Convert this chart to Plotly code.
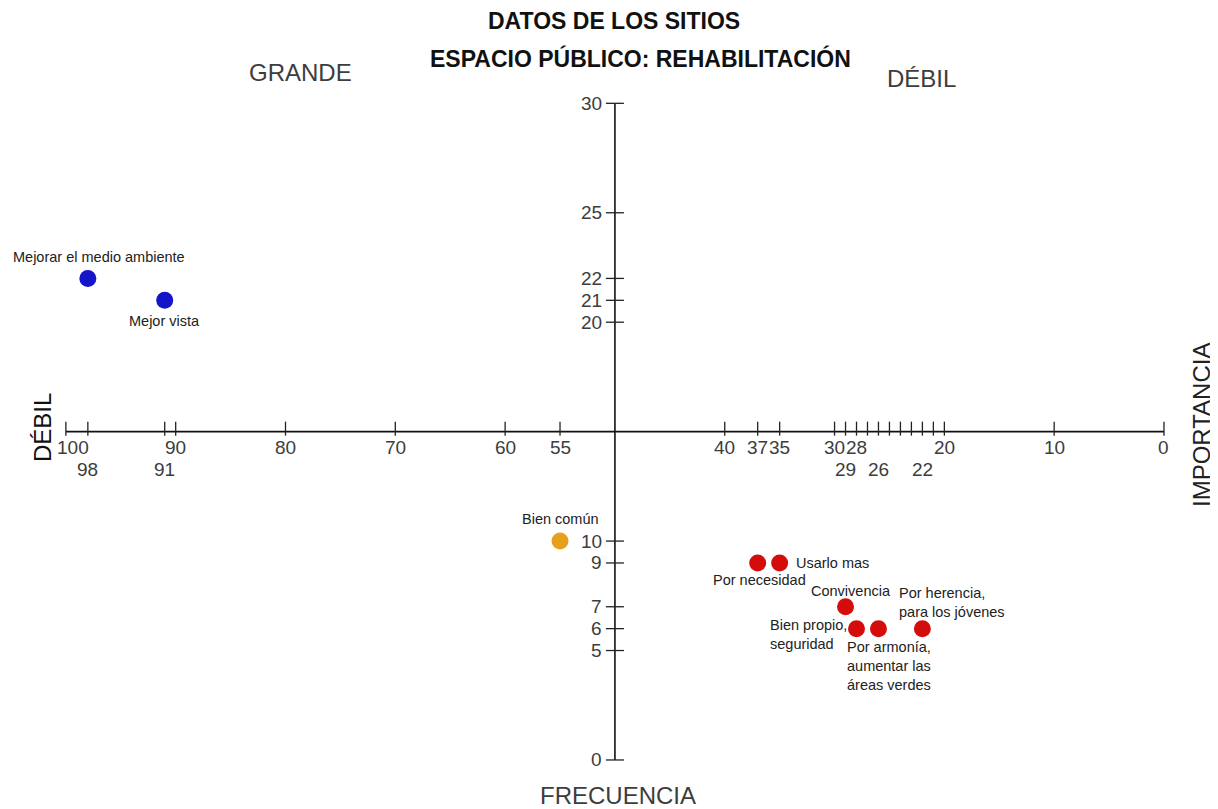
import plotly.graph_objects as go

# datos
blue_freq = [98, 91]
blue_imp = [22, 21]
blue_labels = ["Mejorar el medio ambiente", "Mejor vista"]

orange_freq = [55]
orange_imp = [10]
orange_labels = ["Bien común"]

red_freq = [37, 35, 29, 28, 26, 22]
red_imp = [9, 9, 7, 6, 6, 6]
red_labels = [
    "Por necesidad",
    "Usarlo mas",
    "Convivencia",
    "Bien propio,<br>seguridad",
    "Por armonía,<br>aumentar las<br>áreas verdes",
    "Por herencia,<br>para los jóvenes",
]

x_ticks = [100, 98, 91, 90, 80, 70, 60, 55, 40, 37, 35,
           30, 29, 28, 27, 26, 25, 24, 23, 22, 21, 20, 10, 0]
x_labels_top = [100, 90, 80, 70, 60, 55, 40, 37, 35, 30, 28, 20, 10, 0]
x_labels_bottom = [98, 91, 29, 26, 22]
y_ticks = [30, 25, 22, 21, 20, 10, 9, 7, 6, 5, 0]

x_cross = 50
y_cross = 15

# la pagina tiene 8px de margen en el body
OFF = 8
W, H = 1218 - OFF, 809 - OFF
FONT = "Arial, Liberation Sans, sans-serif"
GREY = "#3d3d3d"

fig = go.Figure()

fig.add_trace(go.Scatter(x=blue_freq, y=blue_imp, mode="markers",
                         marker=dict(size=17, color="#1414c8"), hoverinfo="skip"))
fig.add_trace(go.Scatter(x=orange_freq, y=orange_imp, mode="markers",
                         marker=dict(size=17, color="#e6a01c"), hoverinfo="skip"))
fig.add_trace(go.Scatter(x=red_freq, y=red_imp, mode="markers",
                         marker=dict(size=17, color="#d40c0c"), hoverinfo="skip"))

shapes = []
# ejes
shapes.append(dict(type="line", xref="x", yref="y", x0=max(x_ticks), x1=min(x_ticks),
                   y0=y_cross, y1=y_cross, line=dict(color="#111", width=1.6)))
shapes.append(dict(type="line", xref="x", yref="y", x0=x_cross, x1=x_cross,
                   y0=min(y_ticks), y1=max(y_ticks), line=dict(color="#111", width=1.6)))
for v in x_ticks:
    shapes.append(dict(type="line", xref="x", yref="y", x0=v, x1=v,
                       ysizemode="pixel", yanchor=y_cross, y0=-4, y1=10,
                       line=dict(color="#222", width=1.3)))
for v in y_ticks:
    shapes.append(dict(type="line", xref="x", yref="y", y0=v, y1=v,
                       xsizemode="pixel", xanchor=x_cross, x0=-9, x1=9,
                       line=dict(color="#222", width=1.3)))

ann = []
tick_font = dict(size=19, color=GREY, family=FONT)
for v in x_labels_top:
    ann.append(dict(x=v, y=y_cross, xref="x", yref="y", text=str(v), showarrow=False,
                    xanchor="center", yanchor="middle",
                    yshift=-16, xshift=7 if v == 100 else 0, font=tick_font))
for v in x_labels_bottom:
    ann.append(dict(x=v, y=y_cross, xref="x", yref="y", text=str(v), showarrow=False,
                    xanchor="center", yanchor="middle", yshift=-38, font=tick_font))
for v in y_ticks:
    ann.append(dict(x=x_cross, y=v, xref="x", yref="y", text=str(v), showarrow=False,
                    xanchor="right", yanchor="middle", xshift=-11, font=tick_font))

# etiquetas de puntos: (xshift, yshift, xanchor)
pt_font = dict(size=14.5, color="#222", family=FONT)
blue_off = [(11, 21, "center"), (0, -21, "center")]
for fx, iy, lab, (dx, dy, xa) in zip(blue_freq, blue_imp, blue_labels, blue_off):
    ann.append(dict(x=fx, y=iy, xref="x", yref="y", text=lab, showarrow=False,
                    xshift=dx, yshift=dy, xanchor=xa, yanchor="middle", font=pt_font))
for fx, iy, lab in zip(orange_freq, orange_imp, orange_labels):
    ann.append(dict(x=fx, y=iy, xref="x", yref="y", text=lab, showarrow=False,
                    xanchor="center", yanchor="middle", yshift=22, font=pt_font))
red_off = [(2, -17, "center"), (14, 0, "left"), (5, 16, "center"),
           (-89, -6, "left"), (-33, -37, "left"), (-25, 26, "left")]
for fx, iy, lab, (dx, dy, xa) in zip(red_freq, red_imp, red_labels, red_off):
    ann.append(dict(x=fx, y=iy, xref="x", yref="y", text=lab, showarrow=False,
                    xshift=dx, yshift=dy, xanchor=xa, yanchor="middle",
                    align="left", font=pt_font))


# textos generales (posiciones en pixeles de la pagina)
def px(xp, yp, text, size=24, color=GREY, bold=False, angle=0):
    t = f"<b>{text}</b>" if bold else text
    ann.append(dict(x=(xp - OFF) / W, y=1 - (yp - OFF) / H, xref="paper", yref="paper",
                    text=t, showarrow=False, textangle=angle,
                    xanchor="center", yanchor="middle",
                    font=dict(size=size, color=color, family=FONT)))


px(614, 21, "DATOS DE LOS SITIOS", size=23, color="#111", bold=True)
px(640, 58, "ESPACIO PÚBLICO: REHABILITACIÓN", size=23, color="#111", bold=True)
px(300, 73, "GRANDE")
px(922, 78, "DÉBIL")
px(618, 795, "FRECUENCIA")
px(43, 428, "DÉBIL", color="#111", angle=-90)
px(1201, 425, "IMPORTANCIA", color="#222", angle=-90)

fig.update_layout(
    width=W,
    height=H,
    margin=dict(l=0, r=0, t=0, b=0),
    paper_bgcolor="white",
    plot_bgcolor="white",
    showlegend=False,
    shapes=shapes,
    annotations=ann,
    xaxis=dict(range=[106.0 - OFF / 10.98, -4.92], visible=False, fixedrange=True),
    yaxis=dict(range=[-2.24, 34.72 - OFF / 21.89], visible=False, fixedrange=True),
)

fig.write_html("out.html")
